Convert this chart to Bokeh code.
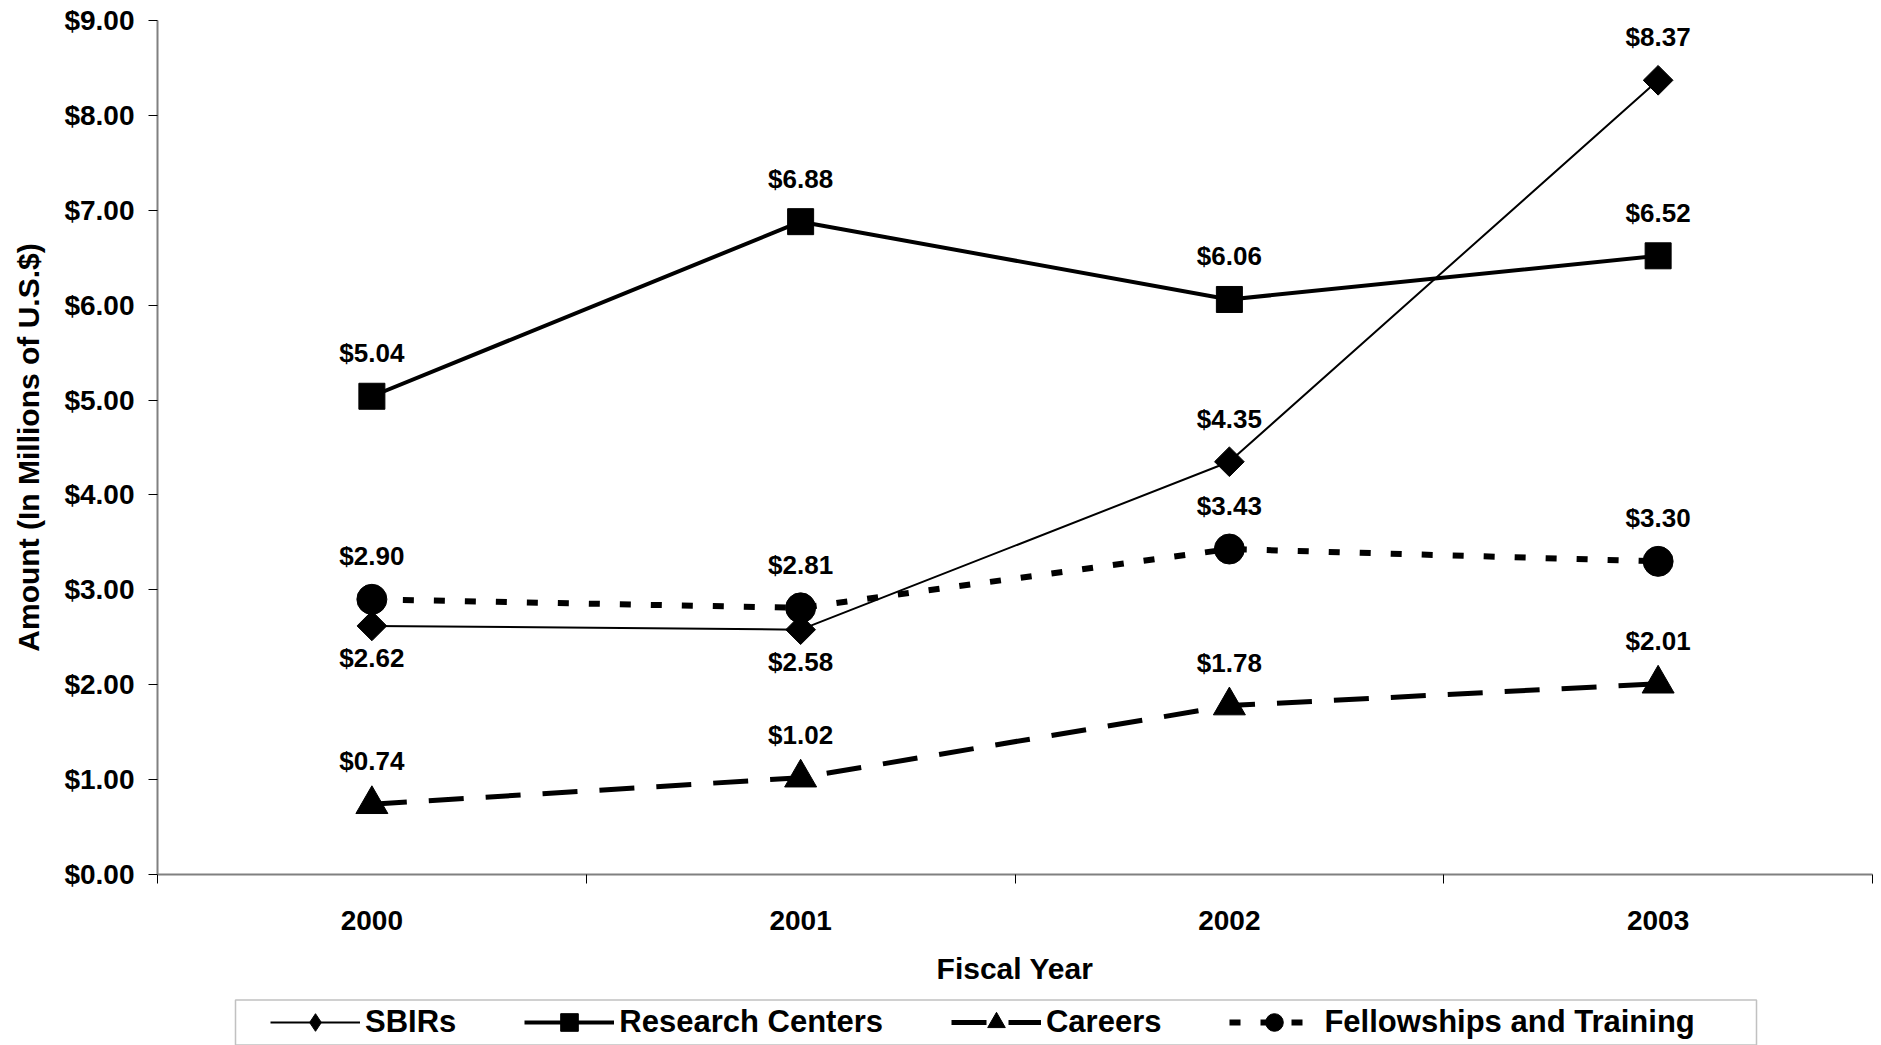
import math
from bokeh.plotting import figure
from bokeh.layouts import column
from bokeh.models import (Range1d, FixedTicker, NumeralTickFormatter, Legend,
                          LegendItem, ColumnDataSource, LabelSet, BoxAnnotation)
from bokeh.embed import file_html
from bokeh.resources import INLINE
from bokeh.core.properties import value

# ---------------- data ----------------
years = ["2000", "2001", "2002", "2003"]
sbirs = [2.62, 2.58, 4.35, 8.37]
research_centers = [5.04, 6.88, 6.06, 6.52]
careers = [0.74, 1.02, 1.78, 2.01]
fellowships = [2.90, 2.81, 3.43, 3.30]
y_ticks = [0, 1, 2, 3, 4, 5, 6, 7, 8, 9]
series_names = ["SBIRs", "Research Centers", "Careers", "Fellowships and Training"]
# where each value label sits relative to its point
label_side = {
    "SBIRs": ["below", "below", "above", "above"],
    "Research Centers": ["above"] * 4,
    "Careers": ["above"] * 4,
    "Fellowships and Training": ["above"] * 4,
}

FONT = "Liberation Sans"
W = 1881
BORDER_L, BORDER_R = 157, 9

# series styles: (line width, dash, marker, marker size, marker angle, legend marker)
styles = [
    (2, "solid", "square", 21, math.pi / 4, "diamond"),
    (4, "solid", "square", 26, 0.0, "square"),
    (5, "35 22", "triangle", 32, 0.0, "triangle"),
    (6, "11 20", "circle", 30, 0.0, "circle"),
]
series_values = [sbirs, research_centers, careers, fellowships]

# category slots: each year sits in the middle of its slot
x_pos = [i + 0.5 for i in range(len(years))]

p = figure(width=W, height=990,
           x_range=Range1d(0, len(years)), y_range=Range1d(0, 9),
           output_backend="svg", toolbar_location=None,
           min_border_left=BORDER_L, min_border_right=BORDER_R,
           min_border_top=20, min_border_bottom=116)
p.outline_line_color = None
p.grid.visible = False
p.background_fill_color = "white"
p.border_fill_color = "white"

# ---------- axes ----------
xa = p.xaxis[0]
xa.ticker = FixedTicker(ticks=x_pos, minor_ticks=list(range(len(years) + 1)))
xa.major_label_overrides = {x: y for x, y in zip(x_pos, years)}
xa.major_tick_out = 0
xa.major_tick_in = 0
xa.minor_tick_out = 9
xa.minor_tick_in = 0
xa.minor_tick_line_color = "black"
xa.axis_line_color = "#808080"
xa.axis_line_width = 2
xa.major_label_text_font = FONT
xa.major_label_text_font_style = "bold"
xa.major_label_text_font_size = "28px"
xa.major_label_text_color = "black"
xa.major_label_standoff = 27
xa.axis_label = "Fiscal Year"
xa.axis_label_text_font = FONT
xa.axis_label_text_font_style = "bold"
xa.axis_label_text_font_size = "30px"
xa.axis_label_text_color = "black"
xa.axis_label_standoff = 19

ya = p.yaxis[0]
ya.ticker = FixedTicker(ticks=y_ticks, minor_ticks=[])
ya.formatter = NumeralTickFormatter(format="$0.00")
ya.major_tick_out = 9
ya.major_tick_in = 0
ya.major_tick_line_color = "black"
ya.axis_line_color = "#808080"
ya.axis_line_width = 2
ya.major_label_text_font = FONT
ya.major_label_text_font_style = "bold"
ya.major_label_text_font_size = "28px"
ya.major_label_text_color = "black"
ya.major_label_standoff = 14
ya.axis_label = "Amount (In Millions of U.S.$)"
ya.axis_label_text_font = FONT
ya.axis_label_text_font_style = "bold"
ya.axis_label_text_font_size = "30px"
ya.axis_label_text_color = "black"
ya.axis_label_standoff = 16

# ---------- series ----------
for name, vals, (lw, dash, mk, ms, ang, _) in zip(series_names, series_values, styles):
    p.line(x_pos, vals, line_color="black", line_width=lw, line_dash=dash)
    p.scatter(x_pos, vals, marker=mk, size=ms, angle=ang,
              fill_color="black", line_color="black")

# ---------- value labels ----------
for name, vals in zip(series_names, series_values):
    for side in ("above", "below"):
        idx = [i for i, s in enumerate(label_side[name]) if s == side]
        if not idx:
            continue
        src = ColumnDataSource(dict(
            x=[x_pos[i] for i in idx],
            y=[vals[i] for i in idx],
            t=["$%.2f" % vals[i] for i in idx]))
        p.add_layout(LabelSet(x="x", y="y", text="t", source=src,
                              y_offset=43 if side == "above" else -32,
                              text_align="center", text_baseline="middle",
                              text_font=value(FONT), text_font_style="bold",
                              text_font_size="26px", text_color="black"))

# ---------- legend (separate strip under the chart) ----------
# the strip's frame is aligned with the chart's frame; its x range is in pixels
LH = 55
lg = figure(width=W, height=LH,
            x_range=Range1d(BORDER_L, W - BORDER_R), y_range=Range1d(0, LH),
            x_axis_location=None, y_axis_location=None,
            output_backend="svg", toolbar_location=None,
            min_border=0, outline_line_color=None)
lg.grid.visible = False
lg.background_fill_color = "white"
lg.border_fill_color = "white"

items = []
for name, (lw, dash, mk, ms, ang, lmk) in zip(series_names, styles):
    # legend-sample renderers (one hidden NaN point each, nothing is plotted)
    rl = lg.line(x=[float("nan")], y=[float("nan")], line_color="black",
                 line_width=lw, line_dash=dash)
    rs = lg.scatter(x=[float("nan")], y=[float("nan")], marker=lmk, size=ms,
                    fill_color="black", line_color="black")
    items.append(LegendItem(label=name, renderers=[rl, rs]))

legend = Legend(items=items, orientation="horizontal",
                location=(270 - BORDER_L, 1),
                glyph_width=90, glyph_height=44, label_standoff=5, spacing=68,
                padding=0, margin=0, border_line_color=None,
                background_fill_alpha=0.0,
                label_text_font=FONT, label_text_font_style="bold",
                label_text_font_size="31px", label_text_color="black")
lg.add_layout(legend, "center")
lg.add_layout(BoxAnnotation(left=235, right=1756, bottom=0.5, top=45.5,
                            fill_color=None, fill_alpha=0.0,
                            line_color="#333333", line_width=1.5))

layout = column(p, lg, spacing=0)
open("out.html", "w").write(file_html(layout, INLINE))
